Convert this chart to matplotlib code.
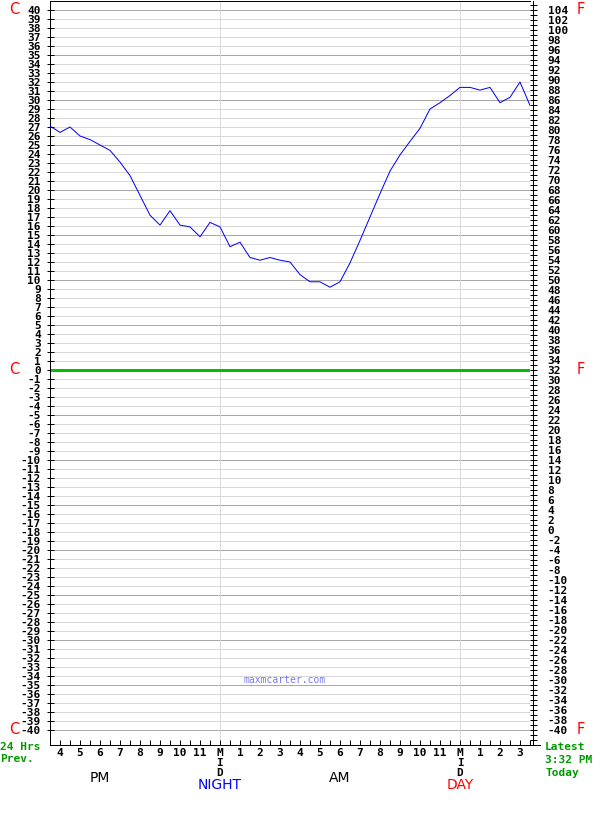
import matplotlib
matplotlib.use('Agg')
import matplotlib.pyplot as plt
from matplotlib.lines import Line2D

plt.rcParams['font.family'] = ['DejaVu Sans Mono']
plt.rcParams['font.weight'] = 'bold'
plt.rcParams['font.size'] = 8

# ---- data ----
# time in hours relative to the previous midnight (-8.5 = 3:30 PM yesterday)
hours = [-8.5, -8.0, -7.5, -7.0, -6.5, -6.0, -5.5, -5.0, -4.5, -4.0, -3.5, -3.0,
         -2.5, -2.0, -1.5, -1.0, -0.5, 0.0, 0.5, 1.0, 1.5, 2.0, 2.5, 3.0,
         3.5, 4.0, 4.5, 5.0, 5.5, 6.0, 6.5, 7.0, 7.5, 8.0, 8.5, 9.0,
         9.5, 10.0, 10.5, 11.0, 11.5, 12.0, 12.5, 13.0, 13.5, 14.0, 14.5, 15.0, 15.5]
temps_c = [27.1, 26.4, 27.0, 26.0, 25.6, 25.0, 24.4, 23.1, 21.6, 19.4, 17.2, 16.1,
           17.7, 16.1, 15.9, 14.8, 16.4, 15.9, 13.7, 14.2, 12.5, 12.2, 12.5, 12.2,
           12.0, 10.6, 9.8, 9.8, 9.2, 9.8, 11.9, 14.4, 17.0, 19.6, 22.1, 23.9,
           25.4, 26.85, 29.0, 29.7, 30.5, 31.4, 31.4, 31.1, 31.4, 29.7, 30.3, 32.0, 29.4]

hour_ticks = [-8, -7, -6, -5, -4, -3, -2, -1, 0, 1, 2, 3, 4, 5, 6, 7, 8, 9, 10, 11,
              12, 13, 14, 15]
hour_labels = ['4', '5', '6', '7', '8', '9', '10', '11', 'M', '1', '2', '3', '4',
               '5', '6', '7', '8', '9', '10', '11', 'M', '1', '2', '3']
c_ticks = list(range(-40, 41))
f_ticks = list(range(-40, 105, 2))
f_minor = list(range(-42, 106, 1))

W, H = 600, 830
PX = 72 / 100  # points per pixel


def fy(y):
    return 1 - y / H


fig = plt.figure(figsize=(W / 100, H / 100), dpi=100)
fig.patch.set_facecolor('white')

ax = fig.add_axes([50 / W, (H - 745) / H, 480 / W, 744 / H])
ax.set_xlim(-8.5, 15.5)
ylo, yhi = (370 - 745) / 9, (370 - 1) / 9
ax.set_ylim(ylo, yhi)

# gridlines
for t in c_ticks:
    if t == 0:
        continue
    col = '#a8a8a8' if t % 5 == 0 else '#d8d8d8'
    ax.axhline(t, color=col, lw=1 * PX, zorder=1)
for h in (0, 12):
    ax.axvline(h, color='#d8d8d8', lw=1 * PX, zorder=1)
ax.axhline(0, color='#00c000', lw=3 * PX, zorder=2)

ax.plot(hours, temps_c, color='#0000ff', lw=1 * PX, zorder=3)

# left axis
ax.set_yticks(c_ticks)
ax.set_yticklabels([str(t) for t in c_ticks])
ax.tick_params(axis='y', direction='inout', length=7 * PX, width=1 * PX, pad=4,
               colors='black', labelsize=8)

# bottom axis
ax.set_xticks(hour_ticks)
ax.set_xticklabels(hour_labels)
ax.set_xticks(hours, minor=True)
ax.tick_params(axis='x', which='both', direction='in', length=5 * PX, width=1 * PX,
               pad=2.2, labelsize=8)
for s in ('left', 'top', 'bottom'):
    ax.spines[s].set_linewidth(1 * PX)
ax.spines['right'].set_visible(False)

# right (Fahrenheit) axis
axr = ax.twinx()
axr.set_ylim(ylo * 9 / 5 + 32, yhi * 9 / 5 + 32)
axr.set_yticks(f_ticks)
axr.set_yticklabels([str(t) for t in f_ticks])
axr.set_yticks(f_minor, minor=True)
axr.tick_params(axis='y', which='both', direction='inout', length=7 * PX,
                width=1 * PX, pad=8, labelsize=8)
for s in ('left', 'top', 'bottom'):
    axr.spines[s].set_visible(False)
axr.spines['right'].set_position(('outward', 3 * PX))
axr.spines['right'].set_linewidth(1 * PX)
axr.spines['right'].set_bounds(-41.5 * 9 / 5 + 32, yhi * 9 / 5 + 32)

fig.add_artist(Line2D([530 / W, 540 / W], [fy(745), fy(745)], color='black',
                      lw=1 * PX))

# unit labels
for yy in (10, 369, 729):
    fig.text(14 / W, fy(yy), 'C', color='#ff0000', size=10.5, ha='center',
             va='center', family='DejaVu Sans', weight='normal')
    fig.text(581 / W, fy(yy), 'F', color='#ff0000', size=10.5, ha='center',
             va='center', family='DejaVu Sans', weight='normal')

# M-I-D letters
for xx in (220, 460):
    fig.text(xx / W, fy(763), 'I', ha='center', va='center')
    fig.text(xx / W, fy(773), 'D', ha='center', va='center')

sans = dict(family='DejaVu Sans', size=10, weight='normal')
fig.text(100 / W, fy(778), 'PM', ha='center', va='center', color='black', **sans)
fig.text(340 / W, fy(778), 'AM', ha='center', va='center', color='black', **sans)
fig.text(220 / W, fy(785), 'NIGHT', ha='center', va='center', color='#0000ff', **sans)
fig.text(460 / W, fy(785), 'DAY', ha='center', va='center', color='#ff0000', **sans)

green = '#009900'
fig.text(0, fy(747), '24 Hrs', ha='left', va='center', color=green)
fig.text(0, fy(759), 'Prev.', ha='left', va='center', color=green)
fig.text(545 / W, fy(747), 'Latest', ha='left', va='center', color=green)
fig.text(545 / W, fy(760), '3:32 PM', ha='left', va='center', color=green)
fig.text(545 / W, fy(773), 'Today', ha='left', va='center', color=green)

fig.text(285 / W, fy(680), 'maxmcarter.com', ha='center', va='center',
         color='#7777ff', size=7, weight='normal')

fig.savefig('out.png', dpi=100, facecolor='white')
